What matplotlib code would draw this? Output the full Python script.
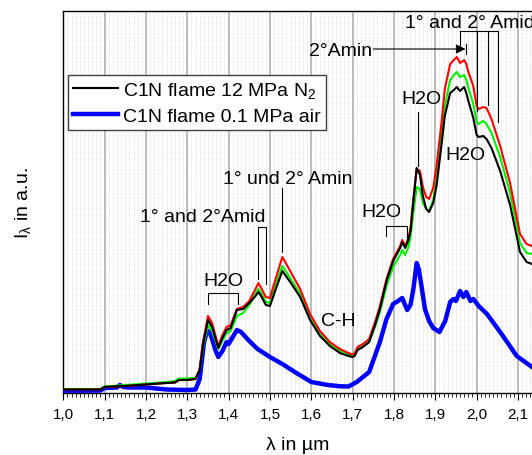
import matplotlib
matplotlib.use("Agg")
import matplotlib.pyplot as plt
from matplotlib.ticker import MultipleLocator, FixedLocator, FixedFormatter

plt.rcParams['font.family'] = ['Liberation Sans', 'DejaVu Sans']
plt.rcParams['mathtext.fontset'] = 'custom'
plt.rcParams['mathtext.rm'] = 'Liberation Sans'
plt.rcParams['mathtext.it'] = 'Liberation Sans:italic'

# ---------------- data ----------------
lam = [1.00, 1.05, 1.09, 1.10, 1.15, 1.20, 1.25, 1.27, 1.28, 1.30, 1.32, 1.33, 1.34, 1.35,
       1.36, 1.375, 1.385, 1.395, 1.405, 1.42, 1.435, 1.45, 1.465, 1.472, 1.48, 1.49, 1.50,
       1.515, 1.53, 1.549, 1.573, 1.597, 1.621, 1.645, 1.669, 1.69, 1.70, 1.705, 1.712,
       1.725, 1.74, 1.755, 1.766, 1.782, 1.798, 1.815, 1.82, 1.827, 1.835, 1.84, 1.847,
       1.855, 1.863, 1.87, 1.878, 1.885, 1.895, 1.903, 1.915, 1.923, 1.936, 1.945, 1.952,
       1.96, 1.97, 1.975, 1.98, 1.992, 2.0, 2.005, 2.016, 2.024, 2.036, 2.057, 2.081,
       2.105, 2.121, 2.134]

red = [3.5, 3.5, 3.5, 6, 7, 8.5, 10, 10.5, 13, 13, 14, 24, 55, 77,
       70, 47, 58, 66, 68, 84, 86, 92, 104, 110, 104, 96, 95,
       116, 136, 122, 104, 79, 62, 51, 44, 40, 38.5, 40, 46,
       49, 54, 72, 87, 114, 134, 147, 153, 147, 155, 164, 194,
       224, 222, 206, 196, 194, 205, 227, 270, 304, 329, 333, 336,
       330, 333, 329, 321, 307, 287, 284, 286, 285, 274, 247, 210,
       159, 149, 147]

black = [3.5, 3.5, 3.5, 6, 7, 8.5, 10, 10.5, 13, 13, 14, 23, 52, 73,
         66, 45, 55, 63, 65, 83, 84, 90, 97, 101, 96, 88, 87,
         105, 122, 111, 96, 73, 57, 47, 40, 37, 36, 37, 43,
         46, 51, 69, 84, 112, 132, 145, 151, 145, 153, 162, 192,
         225, 218, 197, 184, 181, 190, 207, 248, 277, 300, 303, 306,
         302, 306, 300, 292, 275, 258, 256, 257, 254, 245, 222, 188,
         141, 131, 129]

green = [4, 4, 4, 6.5, 8, 9.5, 11, 12, 14.5, 14.5, 15, 23, 49, 68,
         62, 44, 52, 60, 62, 77, 80, 88, 99, 104, 99, 91, 90,
         110, 127, 115, 99, 75, 59, 49, 42, 38.5, 37, 38.5, 44,
         47, 51, 67, 81, 107, 126, 138, 143, 138, 146, 156, 180,
         206, 204, 190, 184, 182, 193, 214, 258, 287, 313, 318, 321,
         316, 318, 313, 305, 289, 271, 269, 272, 269, 260, 236, 200,
         150, 140, 139]

lam_air = [1.00, 1.05, 1.09, 1.10, 1.13, 1.137, 1.145, 1.16, 1.20, 1.25, 1.30, 1.32, 1.33,
           1.34, 1.345, 1.35, 1.355, 1.36, 1.368, 1.375, 1.385, 1.395, 1.40, 1.41, 1.42,
           1.43, 1.45, 1.47, 1.50, 1.53, 1.56, 1.60, 1.64, 1.67, 1.69, 1.71, 1.74, 1.766,
           1.782, 1.798, 1.81, 1.82, 1.832, 1.84, 1.847, 1.855, 1.86, 1.867, 1.875, 1.885,
           1.895, 1.91, 1.924, 1.936, 1.944, 1.95, 1.96, 1.968, 1.975, 1.985, 1.992, 2.005,
           2.025, 2.057, 2.097, 2.134]

air = [2.3, 2.3, 2.5, 5, 5.5, 8, 6, 5.5, 5.5, 3.5, 3, 3.5, 14,
       49, 58, 62, 60, 54, 43, 36, 42, 51, 49, 56, 63,
       61, 52, 44, 36, 29, 21, 11, 8, 6.7, 6.5, 11, 21, 51,
       74, 89, 92, 95, 83, 88, 104, 130, 124, 106, 84, 72,
       65, 61, 72, 91, 94, 92, 102, 96, 101, 92, 94, 87,
       79, 61, 37, 26]

tick_values = [1.0, 1.1, 1.2, 1.3, 1.4, 1.5, 1.6, 1.7, 1.8, 1.9, 2.0, 2.1]
tick_labels = ['1,0', '1,1', '1,2', '1,3', '1,4', '1,5', '1,6', '1,7', '1,8', '1,9', '2,0', '2,1']

legend_labels = ['C1N flame 12 MPa N$_\\mathregular{2}$', 'C1N flame 0.1 MPa air']

# ---------------- figure ----------------
W, H = 532, 456
fig = plt.figure(figsize=(W / 100, H / 100), dpi=100)
ax = fig.add_axes([63.3 / W, (H - 394) / H, (W - 63.3) / W, (394 - 12) / H])

ax.plot(lam_air, air, color='#0000ff', lw=3.2, zorder=3, label=legend_labels[1])
ax.plot(lam, green, color='#00ee00', lw=1.5, zorder=4)
ax.plot(lam, red, color='#ff0000', lw=1.5, zorder=4)
ax.plot(lam, black, color='black', lw=1.5, zorder=5, label=legend_labels[0])

ax.set_xlim(1.0, 2.134)
ax.set_ylim(0, 382)

ax.xaxis.set_major_locator(FixedLocator(tick_values))
ax.xaxis.set_major_formatter(FixedFormatter(tick_labels))
ax.xaxis.set_minor_locator(MultipleLocator(0.01))
ax.set_yticks([])
ax.tick_params(axis='x', which='major', direction='out', length=5, width=0.8,
               labelsize=11, pad=5)
ax.tick_params(axis='x', which='minor', direction='out', length=3, width=0.6)
ax.grid(which='major', axis='x', color='#a8a8a8', lw=1.1, zorder=0)
ax.grid(which='minor', axis='x', color='#d8d8d8', lw=0.7, ls=(0, (1, 1.5)), zorder=0)
ax.set_axisbelow(True)
ax.spines['right'].set_visible(False)
for s in ['left', 'top', 'bottom']:
    ax.spines[s].set_linewidth(1.0)

ax.set_xlabel('λ in µm', fontsize=14, labelpad=11)
ax.set_ylabel('I$_\\mathregular{λ}$ in a.u.', fontsize=14, labelpad=22)

leg = ax.legend(handles=[ax.lines[3], ax.lines[0]], loc='upper left',
                bbox_to_anchor=(0.01, 0.8325), borderaxespad=0, fontsize=14,
                fancybox=False, framealpha=1, edgecolor='#404040',
                handlelength=2.3, handletextpad=0.3, borderpad=0.25,
                labelspacing=0.4)
leg.get_frame().set_linewidth(1.0)

# ---------------- annotations ----------------
fs = 14
lc = dict(color='black', lw=0.8, zorder=6)

# 1° and 2° Amid (top)
ax.text(1.8268, 371, '1° and 2° Amid', fontsize=fs, ha='left', va='center')
ax.plot([1.9597, 2.0525], [361.7, 361.7], **lc)
ax.plot([1.9597, 1.9597], [361.7, 346], **lc)
ax.plot([2.0003, 2.0003], [361.7, 282], **lc)
ax.plot([2.0283, 2.0283], [361.7, 288], **lc)
ax.plot([2.0525, 2.0525], [361.7, 271], **lc)

# 2°Amin arrow
ax.text(1.746, 343, '2°Amin', fontsize=fs, ha='right', va='center')
ax.annotate('', xy=(1.973, 344), xytext=(1.750, 344),
            arrowprops=dict(arrowstyle='-|>', color='black', lw=0.8,
                            mutation_scale=14, shrinkA=0, shrinkB=0))
ax.plot([1.9745, 1.9745], [339, 349], **lc)

# H2O at 1.855
ax.text(1.8655, 294, 'H2O', fontsize=fs, ha='center', va='center')
ax.plot([1.8575, 1.8575], [281, 227], **lc)

# H2O near 1.97
ax.text(1.972, 239, 'H2O', fontsize=fs, ha='center', va='center')

# 1° und 2° Amin
ax.text(1.5437, 214, '1° und 2° Amin', fontsize=fs, ha='center', va='center')
ax.plot([1.530, 1.530], [204.7, 140.7], **lc)

# 1° and 2°Amid
ax.text(1.3368, 176, '1° and 2°Amid', fontsize=fs, ha='center', va='center')
ax.plot([1.4718, 1.4718, 1.4905, 1.4905], [114, 165.7, 165.7, 109], **lc)

# H2O bracket 1.35-1.42
ax.text(1.3864, 112, 'H2O', fontsize=fs, ha='center', va='center')
ax.plot([1.351, 1.351, 1.422, 1.422], [89, 99.7, 99.7, 89], **lc)

# C-H
ax.text(1.6646, 72, 'C-H', fontsize=fs, ha='center', va='center')

# H2O bracket 1.78-1.83
ax.text(1.7687, 181, 'H2O', fontsize=fs, ha='center', va='center')
ax.plot([1.7815, 1.7815, 1.8323, 1.8323], [157.5, 167.5, 167.5, 154], **lc)

fig.savefig('out.png', dpi=100)
